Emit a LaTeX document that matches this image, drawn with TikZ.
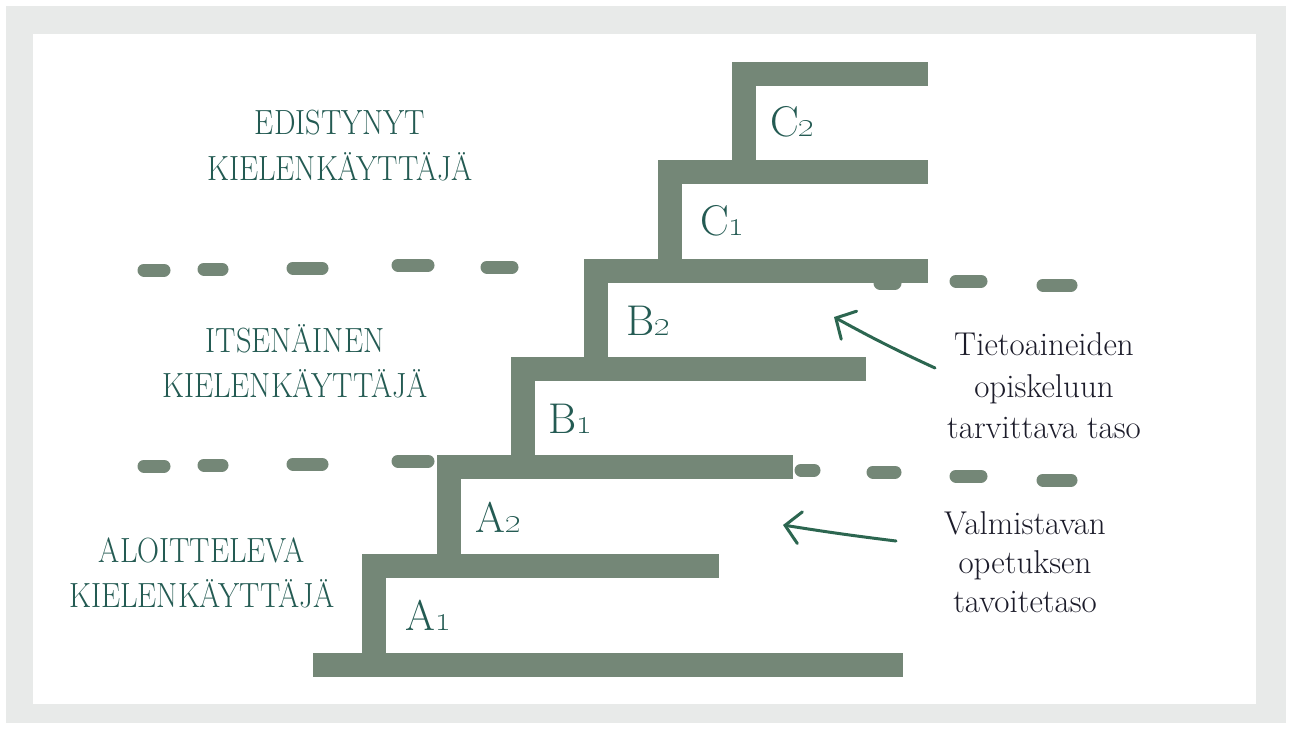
\documentclass[tikz,border=0pt]{standalone}
\usetikzlibrary{arrows.meta}
\definecolor{framegray}{HTML}{E8EAE9}
\definecolor{stair}{HTML}{748777}
\definecolor{teal}{HTML}{245B53}
\definecolor{ink}{HTML}{1C1C2A}
\definecolor{arrowgreen}{HTML}{2C6650}
\newcommand\sqz[1]{\scalebox{0.87}[1]{#1}}
\tikzset{
  bar/.style={fill=stair},
  dashmark/.style={draw=stair,line width=13pt,line cap=round},
  levellabel/.style={text=teal,font=\fontsize{35}{40}\selectfont,inner sep=0pt,anchor=base},
  steplabel/.style={text=teal,font=\fontsize{43}{48}\selectfont,inner sep=0pt,anchor=base west},
  notelabel/.style={text=ink,font=\fontsize{33}{38}\selectfont,inner sep=0pt,anchor=base},
  notearrow/.style={draw=arrowgreen,line width=3pt,line cap=round,-{Straight Barb[length=15pt,width=32pt,line cap=round]}}
}
\begin{document}
\begin{tikzpicture}[x=1pt,y=1pt]
\useasboundingbox (0,0) rectangle (1292,-729);
\fill[framegray] (6,-6) rectangle (1286,-723);
\fill[white] (33,-34) rectangle (1256,-704);
% dashed level separators
\foreach \a/\b/\y in {144/164/270,204/222/269,293/322/268,398/428/265,487/512/267,880/895/283,956/981/281,1043/1071/285,
  144/164/466,204/222/465,293/322/464,398/428/461,801/814/470,873/895/472,956/981/476,1043/1071/480}
  \draw[dashmark] (\a,-\y) -- (\b,-\y);
% staircase
\fill[bar] (313,-653) rectangle (903,-677);
\fill[bar] (362,-554) rectangle (386,-677);
\fill[bar] (362,-554) rectangle (719,-578);
\fill[bar] (437,-455) rectangle (461,-578);
\fill[bar] (437,-455) rectangle (793,-479);
\fill[bar] (511,-357) rectangle (535,-479);
\fill[bar] (511,-357) rectangle (866,-381);
\fill[bar] (584,-259) rectangle (608,-381);
\fill[bar] (584,-259) rectangle (928,-283);
\fill[bar] (658,-160) rectangle (682,-283);
\fill[bar] (658,-160) rectangle (928,-184);
\fill[bar] (732,-62) rectangle (756,-184);
\fill[bar] (732,-62) rectangle (928,-86);
% step labels
\node[steplabel] (a1) at (405,-630) {A\oldstylenums{1}};
\node[steplabel] (a2) at (475,-532) {A\oldstylenums{2}};
\node[steplabel] (b1) at (548,-433) {B\oldstylenums{1}};
\node[steplabel] (b2) at (626,-335) {B\oldstylenums{2}};
\node[steplabel] (c1) at (700,-235) {C\oldstylenums{1}};
\node[steplabel] (c2) at (770,-136) {C\oldstylenums{2}};
% level labels
\node[levellabel] (ed1) at (340,-134) {\sqz{EDISTYNYT}};
\node[levellabel] (ed2) at (340,-180) {\sqz{KIELENKÄYTTÄJÄ}};
\node[levellabel] (it1) at (295,-352) {\sqz{ITSENÄINEN}};
\node[levellabel] (it2) at (295,-397) {\sqz{KIELENKÄYTTÄJÄ}};
\node[levellabel] (al1) at (202,-562) {\sqz{ALOITTELEVA}};
\node[levellabel] (al2) at (202,-607) {\sqz{KIELENKÄYTTÄJÄ}};
% notes
\node[notelabel] (t1) at (1044,-355) {Tietoaineiden};
\node[notelabel] (t2) at (1044,-397) {opiskeluun};
\node[notelabel] (t3) at (1044,-438) {tarvittava taso};
\node[notelabel] (v1) at (1025,-534) {Valmistavan};
\node[notelabel] (v2) at (1025,-573) {opetuksen};
\node[notelabel] (v3) at (1025,-612) {tavoitetaso};
% arrows
\coordinate (tstart) at (935,-368);
\coordinate (ttip) at (834,-317);
\coordinate (vstart) at (896,-541);
\coordinate (vtip) at (783,-525);
\draw[notearrow] (tstart) to[bend left=2] (ttip);
\draw[notearrow] (vstart) to[bend left=1] (vtip);
\end{tikzpicture}
\end{document}
